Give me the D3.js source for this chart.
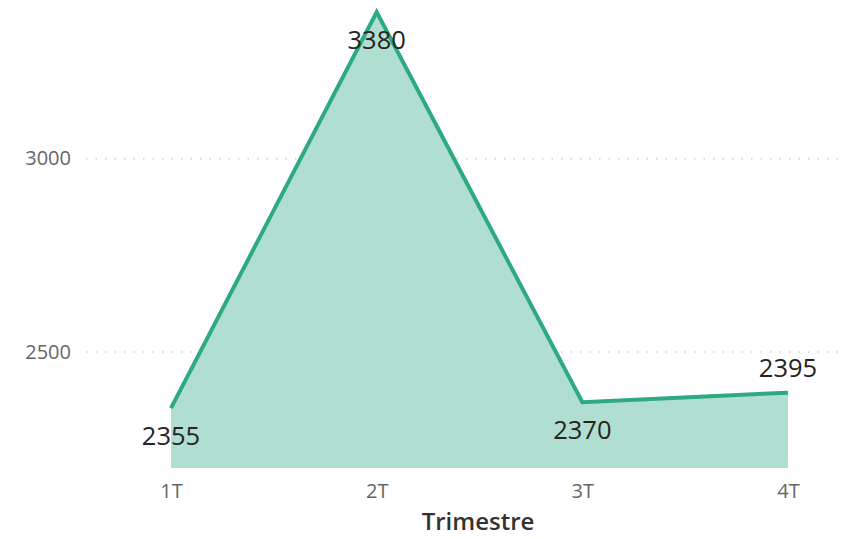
<!DOCTYPE html>
<html><head><meta charset="utf-8">
<script src="https://cdn.jsdelivr.net/npm/d3@7"></script>
<style>body{margin:0;background:#fff;} text{font-family:"Segoe UI","Open Sans","Noto Sans",sans-serif;}</style>
</head><body>
<svg id="c" width="845" height="539"></svg>
<script>
const categories = ["1T","2T","3T","4T"];
const values = [2355, 3380, 2370, 2395];
const yTicks = [2500, 3000];
const labelPos = ["below","below","below","above"];
const xTitle = "Trimestre";

const svg = d3.select("#c");
const x = d3.scalePoint().domain(categories).range([171, 788]);
const y = d3.scaleLinear().domain([2200, 3380]).range([468, 12]);

// gridlines
svg.append("g").selectAll("line").data(yTicks).join("line")
  .attr("x1", 86).attr("x2", 840)
  .attr("y1", d => y(d)).attr("y2", d => y(d))
  .attr("stroke", "#cfcfcf").attr("stroke-width", 1.5)
  .attr("stroke-dasharray", "1.5,8");

// y axis labels
const yAxis = d3.axisLeft(y).tickValues(yTicks).tickSize(0).tickPadding(0).tickFormat(d3.format("d"));
const ya = svg.append("g").attr("transform", "translate(71,0)").call(yAxis);
ya.select(".domain").remove();
ya.selectAll("text").attr("fill", "#666").style("font-size", "20px").attr("dy", "0.3em");

// x axis
const xAxis = d3.axisBottom(x).tickSize(0).tickPadding(0);
const xa = svg.append("g").attr("transform", "translate(0,483)").call(xAxis);
xa.select(".domain").remove();
xa.selectAll("text").attr("fill", "#666").style("font-size", "20px").attr("dy", "0.73em");

// area
const data = categories.map((c, i) => ({c, v: values[i], pos: labelPos[i]}));
svg.append("path").datum(data)
  .attr("d", d3.area().x(d => x(d.c)).y0(y(2200)).y1(d => y(d.v)))
  .attr("fill", "#b0ded0");
svg.append("path").datum(data)
  .attr("d", d3.line().x(d => x(d.c)).y(d => y(d.v)))
  .attr("fill", "none").attr("stroke", "#2ea985").attr("stroke-width", 4)
  .attr("stroke-linejoin", "miter");

// data labels
svg.append("g").selectAll("text").data(data).join("text")
  .attr("x", d => x(d.c))
  .attr("y", d => d.pos === "above" ? y(d.v) - 16 : y(d.v) + 37)
  .attr("text-anchor", "middle")
  .attr("fill", "#252423").style("font-size", "25.5px")
  .text(d => d.v);

// axis title
svg.append("text").attr("x", 478).attr("y", 530).attr("text-anchor", "middle")
  .attr("fill", "#333").style("font-size", "24px").style("font-weight", "600")
  .text(xTitle);
</script>
</body></html>
